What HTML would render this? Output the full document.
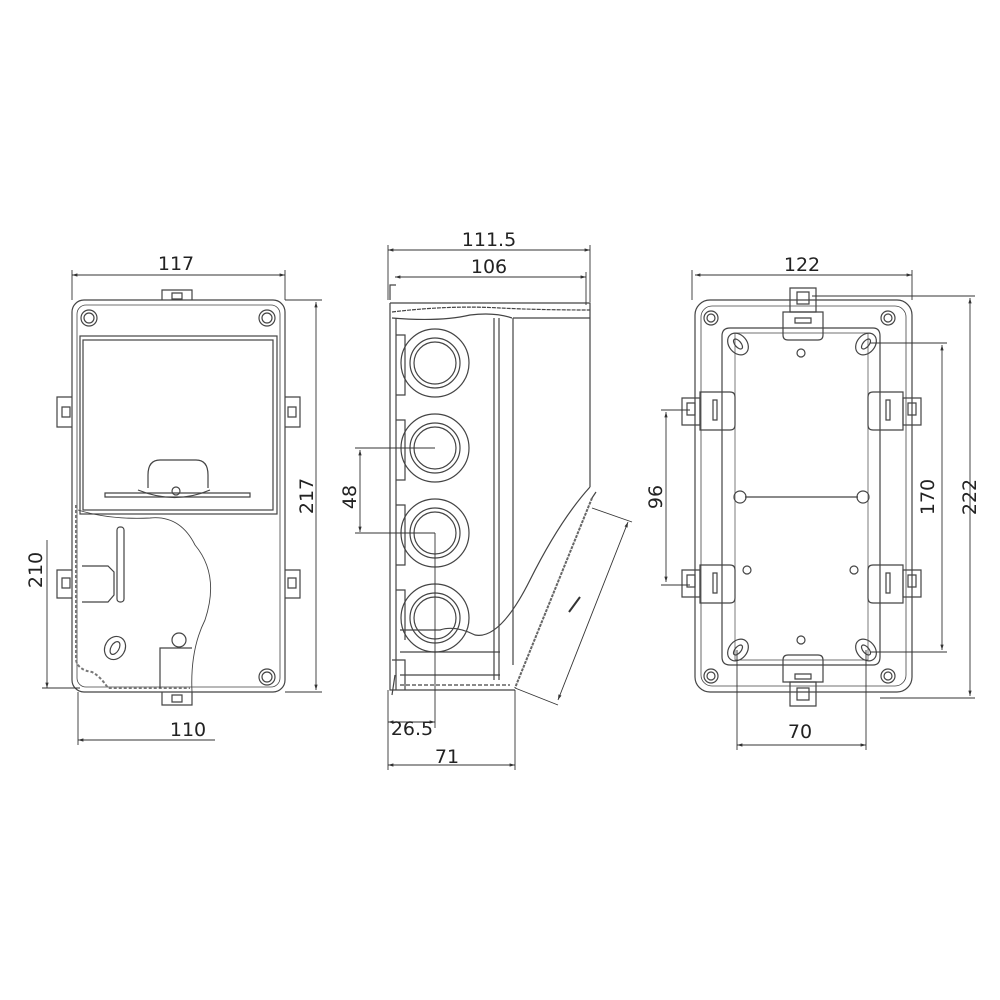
<!DOCTYPE html>
<html><head><style>
html,body{margin:0;padding:0;background:#fff}
svg{display:block}
text{font-family:"DejaVu Sans","Liberation Sans",sans-serif;font-size:19px;fill:#222}
</style></head><body>
<svg width="1000" height="1000" viewBox="0 0 1000 1000" xmlns="http://www.w3.org/2000/svg">
<defs>
<marker id="a" viewBox="0 0 10 10" refX="10" refY="5" markerWidth="9" markerHeight="6" orient="auto-start-reverse"><path d="M0,2 L10,5 L0,8z" fill="#333"/></marker>
</defs>
<g fill="none" stroke="#444" stroke-width="1.2">
<!-- LEFT VIEW -->
<rect x="72" y="300" width="213" height="392" rx="12"/>
<rect x="77" y="305" width="203" height="382" rx="9" stroke-width="0.8"/>
<path d="M162,300 V290 H192 V300 M172,293 h10 v6 h-10z"/>
<path d="M162,692 V705 H192 V692 M172,695 h10 v7 h-10z"/>
<path d="M72,397 H57 V427 H72 M62,407 h8 v10 h-8z"/>
<path d="M285,397 H300 V427 H285 M288,407 h8 v10 h-8z"/>
<path d="M72,570 H57 V598 H72 M62,578 h8 v10 h-8z"/>
<path d="M285,570 H300 V598 H285 M288,578 h8 v10 h-8z"/>
<circle cx="89" cy="318" r="8"/><circle cx="89" cy="318" r="5"/>
<circle cx="267" cy="318" r="8"/><circle cx="267" cy="318" r="5"/>
<circle cx="267" cy="677" r="8"/><circle cx="267" cy="677" r="5"/>
<rect x="80" y="336" width="197" height="178"/>
<rect x="83" y="340" width="190" height="170"/>
<path d="M148,488 V475 Q148,460 160,460 H196 Q208,460 208,475 V488"/>
<path d="M105,493 H250 V497 H105z"/>
<path d="M138,490 Q175,505 210,490"/>
<circle cx="176" cy="491" r="4"/>
<path d="M78,510 Q110,520 150,518 Q180,515 195,545 Q220,575 205,620 Q190,650 192,692" stroke-width="0.9"/>
<path d="M76,505 V660 Q78,670 92,672 Q100,676 108,688 H190" stroke-width="2" stroke="#777" stroke-dasharray="3,2"/>
<rect x="117" y="527" width="7" height="75" rx="3"/>
<path d="M82,566 H108 L114,572 V595 L108,602 H82"/>
<ellipse cx="115" cy="648" rx="10" ry="12" transform="rotate(30 115 648)"/>
<ellipse cx="115" cy="648" rx="4" ry="7" transform="rotate(30 115 648)"/>
<circle cx="179" cy="640" r="7"/>
<path d="M192,648 H160 V688"/>
<!-- MIDDLE VIEW -->
<path d="M390,303 H590 V487"/>
<path d="M392,312 Q450,305 500,308 Q540,310 590,310" stroke-dasharray="4,1"/>
<path d="M392,318 Q440,322 470,315 Q495,312 512,318"/>
<path d="M390,303 V690 H515"/>
<path d="M396,318 V690"/>
<line x1="494" y1="318" x2="494" y2="680"/>
<line x1="499" y1="318" x2="499" y2="680"/>
<line x1="513" y1="318" x2="513" y2="665"/>
<path d="M513,318 H590"/>
<path d="M590,487 Q560,520 530,580 Q500,640 475,635 Q455,625 440,630 H400"/>
<path d="M592,498 L515,688" stroke-width="2" stroke="#666" stroke-dasharray="3,1"/>
<path d="M592,498 L596,492"/>
<path d="M400,652 H500"/>
<path d="M400,675 H500"/>
<path d="M400,685 H510" stroke-dasharray="4,2"/>
<path d="M392,660 H405 V690 M395,675 L392,695"/>
<path d="M390,300 V285 H396"/>
<g>
<circle cx="435" cy="363" r="34"/><circle cx="435" cy="363" r="25"/><circle cx="435" cy="363" r="21"/>
<circle cx="435" cy="448" r="34"/><circle cx="435" cy="448" r="25"/><circle cx="435" cy="448" r="21"/>
<circle cx="435" cy="533" r="34"/><circle cx="435" cy="533" r="25"/><circle cx="435" cy="533" r="21"/>
<circle cx="435" cy="618" r="34"/><circle cx="435" cy="618" r="25"/><circle cx="435" cy="618" r="21"/>
</g>
<path d="M396,335 H405 V395 H396 M396,420 H405 V480 H396 M396,505 H405 V565 H396 M396,590 H405 V640"/>
<!-- RIGHT VIEW -->
<rect x="695" y="300" width="217" height="392" rx="15"/>
<rect x="701" y="306" width="205" height="380" rx="11" stroke-width="0.8"/>
<path d="M730,328 H873 Q880,328 880,336 V657 Q880,665 873,665 H730 Q722,665 722,657 V336 Q722,328 730,328z"/>
<path d="M735,333 H868 V660 H735z" stroke-width="0.7"/>
<circle cx="711" cy="318" r="7"/><circle cx="711" cy="318" r="4"/>
<circle cx="888" cy="318" r="7"/><circle cx="888" cy="318" r="4"/>
<circle cx="711" cy="676" r="7"/><circle cx="711" cy="676" r="4"/>
<circle cx="888" cy="676" r="7"/><circle cx="888" cy="676" r="4"/>
<ellipse cx="738" cy="344" rx="9" ry="12" transform="rotate(-40 738 344)"/><ellipse cx="738" cy="344" rx="3" ry="6" transform="rotate(-40 738 344)"/>
<ellipse cx="866" cy="344" rx="9" ry="12" transform="rotate(40 866 344)"/><ellipse cx="866" cy="344" rx="3" ry="6" transform="rotate(40 866 344)"/>
<ellipse cx="738" cy="650" rx="9" ry="12" transform="rotate(40 738 650)"/><ellipse cx="738" cy="650" rx="3" ry="6" transform="rotate(40 738 650)"/>
<ellipse cx="866" cy="650" rx="9" ry="12" transform="rotate(-40 866 650)"/><ellipse cx="866" cy="650" rx="3" ry="6" transform="rotate(-40 866 650)"/>
<circle cx="801" cy="353" r="4"/><circle cx="801" cy="640" r="4"/>
<circle cx="747" cy="570" r="4"/><circle cx="854" cy="570" r="4"/>
<line x1="745" y1="497" x2="858" y2="497"/>
<circle cx="740" cy="497" r="6"/><circle cx="863" cy="497" r="6"/>
<!-- clips -->
<path d="M790,288 H816 V312 H790z M797,292 h12 v12 h-12z"/>
<path d="M783,312 H823 V335 Q823,340 818,340 H788 Q783,340 783,335z M795,318 h16 v5 h-16z"/>
<path d="M790,682 H816 V706 H790z M797,688 h12 v12 h-12z"/>
<path d="M783,682 H823 V660 Q823,655 818,655 H788 Q783,655 783,660z M795,674 h16 v5 h-16z"/>
<path d="M682,398 H700 V425 H682z M687,403 h8 v12 h-8z"/>
<path d="M700,392 H730 Q735,392 735,397 V425 Q735,430 730,430 H700z M713,400 h4 v20 h-4z"/>
<path d="M682,570 H700 V597 H682z M687,575 h8 v12 h-8z"/>
<path d="M700,565 H730 Q735,565 735,570 V598 Q735,603 730,603 H700z M713,573 h4 v20 h-4z"/>
<path d="M903,398 H921 V425 H903z M908,403 h8 v12 h-8z"/>
<path d="M903,392 H873 Q868,392 868,397 V425 Q868,430 873,430 H903z M886,400 h4 v20 h-4z"/>
<path d="M903,570 H921 V597 H903z M908,575 h8 v12 h-8z"/>
<path d="M903,565 H873 Q868,565 868,570 V598 Q868,603 873,603 H903z M886,573 h4 v20 h-4z"/>
</g>
<!-- DIMENSIONS -->
<g stroke="#333" stroke-width="0.9" fill="none">
<line x1="72" y1="275" x2="285" y2="275" marker-start="url(#a)" marker-end="url(#a)"/>
<line x1="72" y1="270" x2="72" y2="300"/><line x1="285" y1="270" x2="285" y2="300"/>
<line x1="316" y1="302" x2="316" y2="690" marker-start="url(#a)" marker-end="url(#a)"/>
<line x1="285" y1="300" x2="322" y2="300"/><line x1="285" y1="692" x2="322" y2="692"/>
<line x1="47" y1="540" x2="47" y2="688" marker-end="url(#a)"/>
<line x1="42" y1="688" x2="80" y2="688"/>
<line x1="78" y1="740" x2="215" y2="740" marker-start="url(#a)"/>
<line x1="78" y1="692" x2="78" y2="745"/>
<line x1="388" y1="250" x2="590" y2="250" marker-start="url(#a)" marker-end="url(#a)"/>
<line x1="388" y1="245" x2="388" y2="300"/><line x1="590" y1="245" x2="590" y2="302"/>
<line x1="395" y1="277" x2="586" y2="277" marker-start="url(#a)" marker-end="url(#a)"/>
<line x1="586" y1="272" x2="586" y2="305"/>
<line x1="360" y1="450" x2="360" y2="532" marker-start="url(#a)" marker-end="url(#a)"/>
<line x1="355" y1="448" x2="435" y2="448"/><line x1="355" y1="533" x2="435" y2="533"/>
<line x1="435" y1="533" x2="435" y2="728"/>
<line x1="388" y1="690" x2="388" y2="770"/>
<line x1="388" y1="722" x2="435" y2="722" marker-start="url(#a)" marker-end="url(#a)"/>
<line x1="515" y1="690" x2="515" y2="770"/>
<line x1="388" y1="765" x2="515" y2="765" marker-start="url(#a)" marker-end="url(#a)"/>
<line x1="592" y1="508" x2="632" y2="522"/><line x1="515" y1="688" x2="558" y2="705"/>
<line x1="628" y1="522" x2="558" y2="700" marker-start="url(#a)" marker-end="url(#a)"/>
<line x1="569" y1="612" x2="580" y2="597" stroke-width="2"/>
<line x1="695" y1="275" x2="912" y2="275" marker-start="url(#a)" marker-end="url(#a)"/>
<line x1="692" y1="270" x2="692" y2="300"/><line x1="912" y1="270" x2="912" y2="300"/>
<line x1="970" y1="298" x2="970" y2="696" marker-start="url(#a)" marker-end="url(#a)"/>
<line x1="812" y1="296" x2="975" y2="296"/><line x1="880" y1="698" x2="975" y2="698"/>
<line x1="942" y1="345" x2="942" y2="650" marker-start="url(#a)" marker-end="url(#a)"/>
<line x1="870" y1="343" x2="947" y2="343"/><line x1="870" y1="652" x2="947" y2="652"/>
<line x1="666" y1="412" x2="666" y2="582" marker-start="url(#a)" marker-end="url(#a)"/>
<line x1="661" y1="410" x2="690" y2="410"/><line x1="661" y1="585" x2="690" y2="585"/>
<line x1="737" y1="650" x2="737" y2="750"/><line x1="866" y1="650" x2="866" y2="750"/>
<line x1="737" y1="745" x2="866" y2="745" marker-start="url(#a)" marker-end="url(#a)"/>
</g>
<text x="176" y="270" text-anchor="middle">117</text>
<text transform="translate(313,496) rotate(-90)" text-anchor="middle">217</text>
<text transform="translate(42,570) rotate(-90)" text-anchor="middle">210</text>
<text x="188" y="736" text-anchor="middle">110</text>
<text x="489" y="246" text-anchor="middle">111.5</text>
<text x="489" y="273" text-anchor="middle">106</text>
<text transform="translate(356,497) rotate(-90)" text-anchor="middle">48</text>
<text x="412" y="735" text-anchor="middle">26.5</text>
<text x="447" y="763" text-anchor="middle">71</text>
<text x="802" y="271" text-anchor="middle">122</text>
<text transform="translate(976,497) rotate(-90)" text-anchor="middle">222</text>
<text transform="translate(934,497) rotate(-90)" text-anchor="middle">170</text>
<text transform="translate(662,497) rotate(-90)" text-anchor="middle">96</text>
<text x="800" y="738" text-anchor="middle">70</text>
</svg>
</body></html>
